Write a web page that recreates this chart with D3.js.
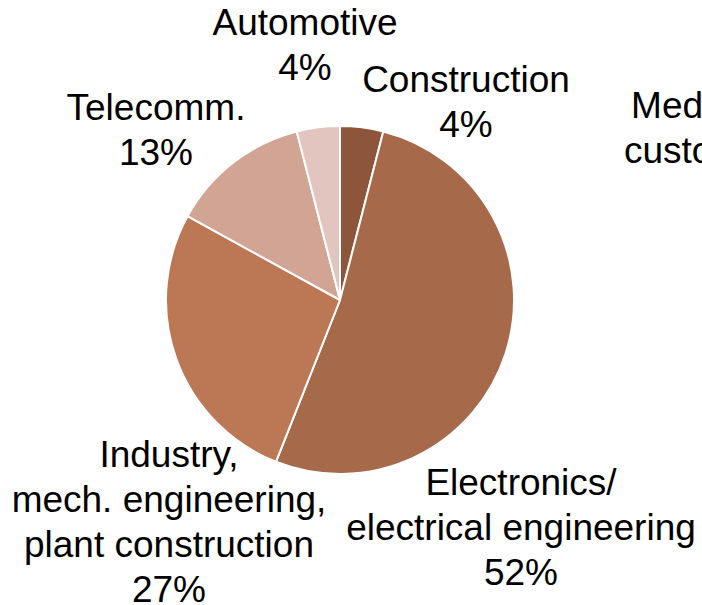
<!DOCTYPE html>
<html>
<head>
<meta charset="utf-8">
<script src="https://cdn.jsdelivr.net/npm/d3@7"></script>
<style>
html,body{margin:0;padding:0;background:#fff;overflow:hidden;}
svg{display:block;}
text{font-family:"Liberation Sans",Arial,sans-serif;font-size:37px;fill:#000;}
</style>
</head>
<body>
<svg id="chart" width="702" height="605"></svg>
<script>
// ---- data ----
const categories = ["Construction", "Medical", "Electronics", "Industry", "Telecomm", "Automotive"];
const labelLines = [
  ["Construction"],
  ["Medical/", "customer"],
  ["Electronics/", "electrical engineering"],
  ["Industry,", "mech. engineering,", "plant construction"],
  ["Telecomm."],
  ["Automotive"]
];
const values = [4, 0, 52, 27, 13, 4];
const showPercent = [true, false, true, true, true, true];

// ---- styles / layout ----
const colors = ["#8D553A", "#9A6045", "#A66A4B", "#BC7755", "#D1A494", "#E2C5BE"];
const width = 702, height = 605;
const cx = 340, cy = 300, radius = 174;
const lineH = 45;
// label block anchors: [x center, baseline of first line]
const labelAnchor = [
  [466, 92],
  [700, 118],
  [521, 495],
  [169, 467],
  [156, 120],
  [305, 35]
];

const svg = d3.select("#chart");
const g = svg.append("g").attr("transform", `translate(${cx},${cy})`);

const pie = d3.pie().sort(null).value(d => d.value);
const arc = d3.arc().innerRadius(0).outerRadius(radius);
const color = d3.scaleOrdinal().domain(categories).range(colors);

const data = categories.map((c, i) => ({cat: c, value: values[i], i}));
const arcs = pie(data);

g.selectAll("path.slice")
  .data(arcs.filter(d => d.data.value > 0))
  .join("path")
  .attr("class", "slice")
  .attr("d", arc)
  .attr("fill", d => color(d.data.cat))
  .attr("stroke", "#fff")
  .attr("stroke-width", 2)
  .attr("stroke-linejoin", "round");

const total = d3.sum(values);
const lbl = svg.append("g");
data.forEach((d, i) => {
  const lines = labelLines[i].slice();
  if (showPercent[i]) lines.push(Math.round(d.value / total * 100) + "%");
  const t = lbl.append("text").attr("text-anchor", "middle");
  lines.forEach((ln, k) => {
    t.append("tspan")
      .attr("x", labelAnchor[i][0])
      .attr("y", labelAnchor[i][1] + k * lineH)
      .text(ln);
  });
});
</script>
</body>
</html>
